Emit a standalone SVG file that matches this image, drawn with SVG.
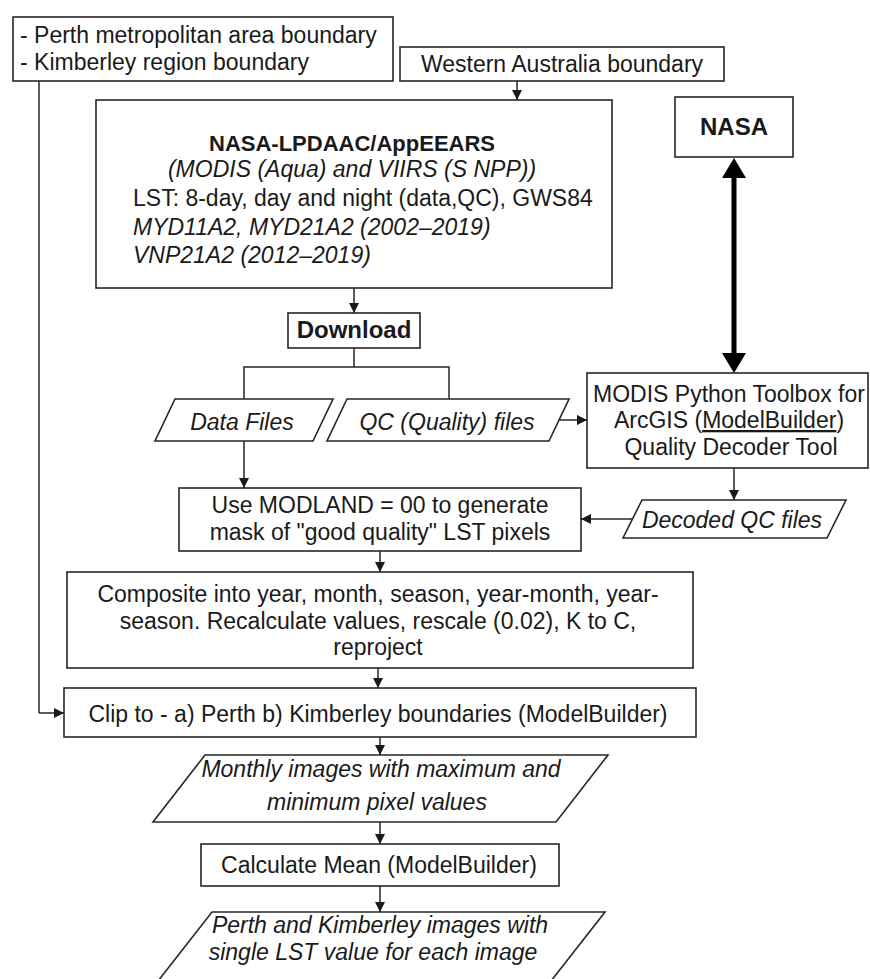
<svg xmlns="http://www.w3.org/2000/svg" width="870" height="979" viewBox="0 0 870 979">
<style>
.bx{fill:#fff;stroke:#262626;stroke-width:1.6}
.ln{fill:none;stroke:#262626;stroke-width:1.5}
.t{font-family:"Liberation Sans",Arial,sans-serif;font-size:23px;fill:#1a1a1a}
.c{text-anchor:middle}
.i{font-style:italic}
.b{font-weight:bold}
</style>
<defs>
<marker id="ah" viewBox="0 0 10 10" refX="10" refY="5" markerWidth="10" markerHeight="10" markerUnits="userSpaceOnUse" orient="auto">
<path d="M0,0 L10,5 L0,10 z" fill="#1a1a1a"/>
</marker>
</defs>
<rect width="870" height="979" fill="#fff"/>

<g id="connectors">
<line class="ln" x1="39" y1="81" x2="39" y2="713"/>
<line class="ln" x1="39" y1="713" x2="64" y2="713" marker-end="url(#ah)"/>
<line class="ln" x1="517" y1="81" x2="517" y2="100" marker-end="url(#ah)"/>
<line class="ln" x1="354" y1="288" x2="354" y2="313" marker-end="url(#ah)"/>
<polyline class="ln" points="354,348 354,367"/>
<polyline class="ln" points="244,399 244,367 449,367 449,399"/>
<line class="ln" x1="559" y1="420" x2="587" y2="420" marker-end="url(#ah)"/>
<line class="ln" x1="244" y1="441" x2="244" y2="488" marker-end="url(#ah)"/>
<line class="ln" x1="734" y1="468" x2="734" y2="500" marker-end="url(#ah)"/>
<line class="ln" x1="632" y1="519" x2="581" y2="519" marker-end="url(#ah)"/>
<line class="ln" x1="380" y1="551" x2="380" y2="572" marker-end="url(#ah)"/>
<line class="ln" x1="378" y1="668" x2="378" y2="688" marker-end="url(#ah)"/>
<line class="ln" x1="380" y1="737" x2="380" y2="755" marker-end="url(#ah)"/>
<line class="ln" x1="380" y1="822" x2="380" y2="844" marker-end="url(#ah)"/>
<line class="ln" x1="380" y1="886" x2="380" y2="912" marker-end="url(#ah)"/>
<g id="nasa-link">
<line x1="734" y1="172" x2="734" y2="358" stroke="#000" stroke-width="5"/>
<polygon points="734,158 746,178 722,178" fill="#000"/>
<polygon points="734,373 746,353 722,353" fill="#000"/>
</g>
</g>

<g id="boundaries">
<rect class="bx" x="13" y="17" width="380" height="64"/>
<text class="t" x="20" y="43">- Perth metropolitan area boundary</text>
<text class="t" x="20" y="70">- Kimberley region boundary</text>
</g>

<g id="wa-boundary">
<rect class="bx" x="400" y="47" width="324" height="34"/>
<text class="t c" x="562" y="72">Western Australia boundary</text>
</g>

<g id="appeears">
<rect class="bx" x="96" y="100" width="516" height="188"/>
<text class="t c b" x="352" y="151" style="font-size:22px">NASA-LPDAAC/AppEEARS</text>
<text class="t c i" x="352" y="177">(MODIS (Aqua) and VIIRS (S NPP))</text>
<text class="t" x="133" y="206">LST: 8-day, day and night (data,QC), GWS84</text>
<text class="t i" x="133" y="235">MYD11A2, MYD21A2 (2002–2019)</text>
<text class="t i" x="133" y="263">VNP21A2 (2012–2019)</text>
</g>

<g id="nasa">
<rect class="bx" x="675" y="97" width="118" height="60"/>
<text class="t c b" x="734" y="135" style="font-size:24px">NASA</text>
</g>

<g id="download">
<rect class="bx" x="288" y="313" width="132" height="35"/>
<text class="t c b" x="354" y="338" style="font-size:24px">Download</text>
</g>

<g id="data-files">
<polygon class="bx" points="175,399 333,399 313,441 155,441"/>
<text class="t c i" x="242" y="430">Data Files</text>
</g>

<g id="qc-files">
<polygon class="bx" points="347,399 569,399 549,441 327,441"/>
<text class="t c i" x="447" y="430">QC (Quality) files</text>
</g>

<g id="modis-toolbox">
<rect class="bx" x="587" y="373" width="281" height="95"/>
<text class="t c" x="729" y="402">MODIS Python Toolbox for</text>
<text class="t c" x="729" y="428">ArcGIS (<tspan text-decoration="underline">ModelBuilder</tspan>)</text>
<text class="t c" x="731" y="455">Quality Decoder Tool</text>
</g>

<g id="decoded-qc">
<polygon class="bx" points="642,500 846,500 827,538 623,538"/>
<text class="t c i" x="732" y="528">Decoded QC files</text>
</g>

<g id="modland-mask">
<rect class="bx" x="179" y="488" width="402" height="63"/>
<text class="t c" x="380" y="513">Use MODLAND = 00 to generate</text>
<text class="t c" x="380" y="540">mask of "good quality" LST pixels</text>
</g>

<g id="composite">
<rect class="bx" x="67" y="572" width="626" height="96"/>
<text class="t c" x="378" y="602">Composite into year, month, season, year-month, year-</text>
<text class="t c" x="378" y="629">season. Recalculate values, rescale (0.02), K to C,</text>
<text class="t c" x="378" y="655">reproject</text>
</g>

<g id="clip">
<rect class="bx" x="64" y="688" width="632" height="49"/>
<text class="t c" x="378" y="722">Clip to - a) Perth b) Kimberley boundaries (ModelBuilder)</text>
</g>

<g id="monthly-images">
<polygon class="bx" points="205,755 608,755 556,822 153,822"/>
<text class="t c i" x="381" y="777">Monthly images with maximum and</text>
<text class="t c i" x="377" y="810">minimum pixel values</text>
</g>

<g id="calc-mean">
<rect class="bx" x="201" y="844" width="358" height="42"/>
<text class="t c" x="379" y="873">Calculate Mean (ModelBuilder)</text>
</g>

<g id="final-images">
<polygon class="bx" points="212,912 605,912 544,990 151,990"/>
<text class="t c i" x="380" y="933">Perth and Kimberley images with</text>
<text class="t c i" x="373" y="960">single LST value for each image</text>
</g>
</svg>
